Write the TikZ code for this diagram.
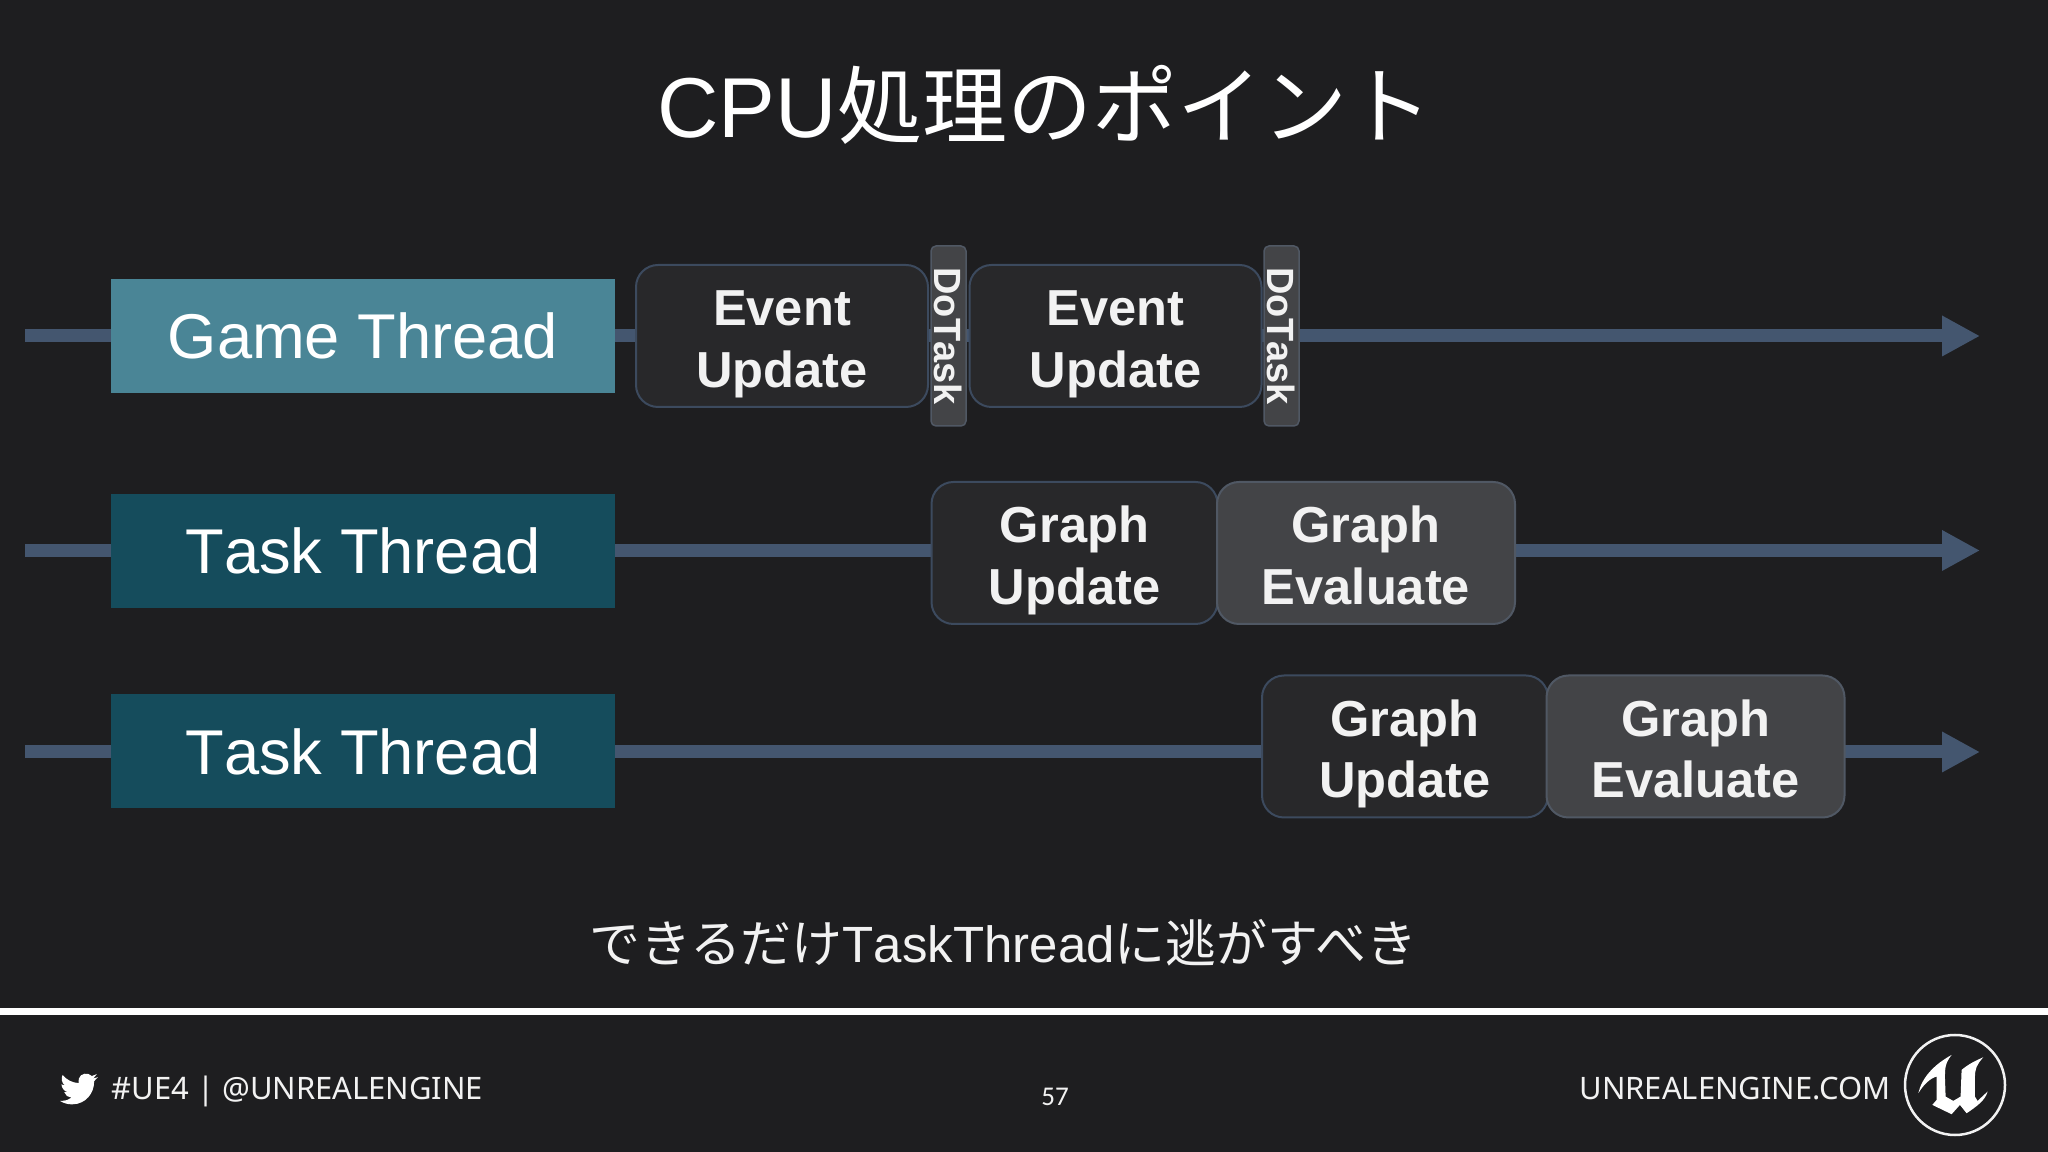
\documentclass[tikz,border=0pt]{standalone}
\usepackage{fontspec}
\setmainfont[Kerning=Off]{Liberation Sans}
\newfontfamily\cjk{Noto Sans CJK JP}
\newfontfamily\din{Noto Sans}
\newfontfamily\pagefont{Carlito}
\usetikzlibrary{arrows.meta}
\usetikzlibrary{backgrounds}
\definecolor{slatebg}{HTML}{1E1E20}
\definecolor{gamebox}{HTML}{4A8596}
\definecolor{taskbox}{HTML}{154C5C}
\definecolor{threadline}{HTML}{44566F}
\definecolor{darkfill}{HTML}{28282A}
\definecolor{darkedge}{HTML}{3C4A5E}
\definecolor{greyfill}{HTML}{434447}
\definecolor{greyedge}{HTML}{505864}
\definecolor{slatetext}{HTML}{F2F2F2}
\newcommand{\twolines}[2]{\rule{0pt}{11.6pt}#1\\\smash{#2}}
\tikzset{%
    threadbox/.style={%
        minimum width=50.4mm,
        minimum height=11.4mm,
        inner sep=0pt,
        text=white,
        font=\fontsize{18}{21}\selectfont
    },
    darkbox/.style={%
        draw=darkedge,
        fill=darkfill,
        rounded corners=2.2mm,
        line width=0.2mm,
        inner sep=0pt,
        align=center,
        text=slatetext,
        minimum height=14.2mm,
        font=\fontsize{14.4}{17.5}\selectfont\bfseries
    },
    greybox/.style={darkbox,draw=greyedge,fill=greyfill},
    taskbar/.style={%
        draw=greyedge,
        fill=greyfill,
        rounded corners=0.5mm,
        line width=0.15mm,
        inner sep=0pt,
        rotate=-90,
        minimum width=18mm,
        minimum height=3.5mm,
        text=slatetext,
        font=\fontsize{10.8}{12}\selectfont\bfseries
    },
    timeline/.style={%
        threadline,
        line width=1.3mm,
        -{Triangle[length=3.8mm,width=3.8mm]}
    },
    footertext/.style={text=slatetext,font=\din\fontsize{8.8}{10}\selectfont}
}
\begin{document}
\begin{tikzpicture}[x=0.1mm,y=0.1mm]
\useasboundingbox (0,0) rectangle (2048,-1152);
\fill[slatebg] (0,0) rectangle (2048,-1152);

\node[text=white,font=\fontsize{24.2}{28}\selectfont] (title) at (1045,-105) {CPU{\cjk 処理のポイント}};

\coordinate (gamestart) at (25,-336);
\coordinate (gameend) at (1980,-336);
\coordinate (taskastart) at (25,-550.5);
\coordinate (taskaend) at (1980,-550.5);
\coordinate (taskbstart) at (25,-752);
\coordinate (taskbend) at (1980,-752);
\draw[timeline] (gamestart) -- (gameend);
\draw[timeline] (taskastart) -- (taskaend);
\draw[timeline] (taskbstart) -- (taskbend);

\node[threadbox,fill=gamebox] (game) at (363,-336) {Game Thread};
\node[threadbox,fill=taskbox] (taska) at (363,-551) {Task Thread};
\node[threadbox,fill=taskbox] (taskb) at (363,-751.5) {Task Thread};

\node[darkbox,minimum width=29.2mm] (eventa) at (782,-336) {\twolines{Event}{Update}};
\node[darkbox,minimum width=29.2mm] (eventb) at (1115.5,-336) {\twolines{Event}{Update}};
\node[taskbar] (dotaska) at (948.5,-336) {DoTask};
\node[taskbar] (dotaskb) at (1281.5,-336) {DoTask};

\node[darkbox,minimum width=28.6mm] (grapha) at (1074.5,-553) {\twolines{Graph}{Update}};
\node[greybox,minimum width=29.8mm] (evala) at (1366,-553) {\twolines{Graph}{Evaluate}};
\node[darkbox,minimum width=28.6mm] (graphb) at (1405,-746.5) {\twolines{Graph}{Update}};
\node[greybox,minimum width=29.8mm] (evalb) at (1695.5,-746.5) {\twolines{Graph}{Evaluate}};

\node[text=slatetext,font=\fontsize{14.5}{17}\selectfont] (note) at (1003,-943) {{\cjk できるだけ}TaskThread{\cjk に逃がすべき}};

\coordinate (rulestart) at (0,-1011.5);
\coordinate (ruleend) at (2048,-1011.5);
\draw[white,line width=0.75mm] (rulestart) -- (ruleend);

% bird
\begin{scope}[shift={(60,-1070)},x=0.158mm,y=-0.158mm]
\fill[white] (23.95,4.57) -- (21.13,5.35) -- (23.29,2.62) -- (20.16,3.81)
    .. controls (17.5,1.2) and (13,2) .. (11.9,5.5)
    .. controls (11.65,6.5) and (11.6,7.4) .. (11.78,8.29)
    .. controls (7.69,8.1) and (4.07,6.13) .. (1.64,3.16)
    .. controls (0.6,5) and (0.9,8.2) .. (3.16,9.73)
    -- (0.93,9.12) -- (0.93,9.18)
    .. controls (1.1,11.5) and (2.7,13.5) .. (4.88,14)
    -- (2.67,14.09)
    .. controls (3.3,16) and (5.2,17.4) .. (7.27,17.51)
    .. controls (5.5,18.9) and (3.3,19.6) .. (1.17,19.61)
    -- (0,19.54)
    .. controls (2.2,21) and (4.9,21.75) .. (7.56,21.75)
    .. controls (16.6,21.75) and (21.56,14.26) .. (21.56,7.77)
    -- (21.54,7.14) -- cycle;
\end{scope}
\node[footertext,anchor=base west,inner sep=0pt] (twitter) at (111,-1100) {\#UE4 | @UNREALENGINE};
\node[text=slatetext,font=\pagefont\fontsize{7.7}{9}\selectfont] (pagenum) at (1055,-1097) {57};
\node[footertext,anchor=base east,inner sep=0pt] (website) at (1891,-1100) {UNREALENGINE.COM};

% logo
\draw[slatetext,line width=0.25mm] (1955,-1085) circle (50);
\begin{scope}[shift={(1895,-1025)},x=0.0333mm,y=-0.0333mm]
\fill[white] (70,205) .. controls (80,160) and (115,120) .. (170,90)
    .. controls (150,115) and (150,130) .. (150,160)
    -- (152,215) -- (175,228) -- (197,215) -- (200,135)
    .. controls (220,118) and (240,108) .. (265,97)
    .. controls (245,120) and (240,130) .. (240,160)
    -- (240,215) -- (248,228) -- (278,200)
    .. controls (272,225) and (245,245) .. (215,265)
    -- (195,240) -- (170,268) -- (112,240) -- (125,225) -- (125,155)
    .. controls (105,160) and (85,180) .. (70,205) -- cycle;
\end{scope}
\end{tikzpicture}
\end{document}
